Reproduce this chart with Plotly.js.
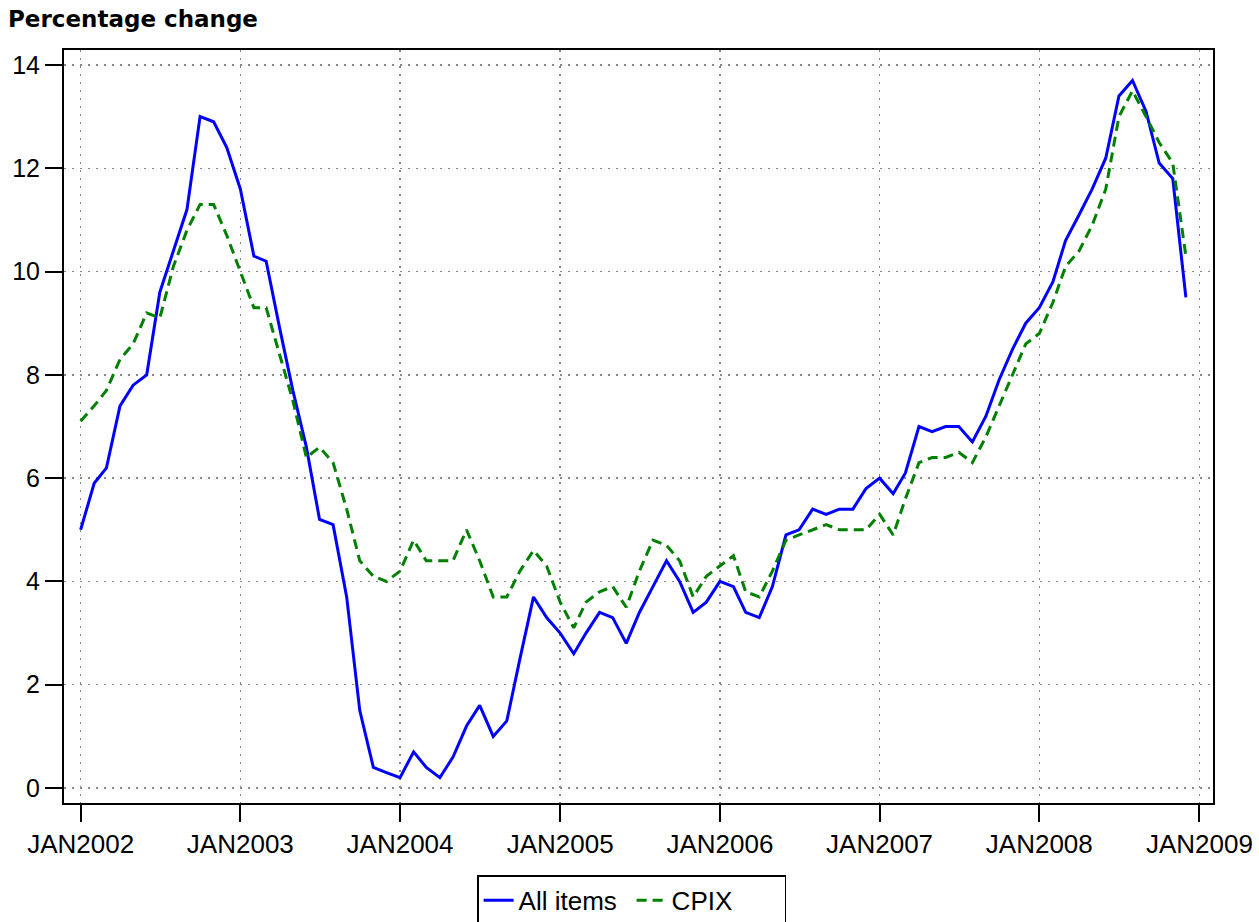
<!DOCTYPE html>
<html>
<head>
<meta charset="utf-8">
<script src="https://cdn.plot.ly/plotly-3.0.1.min.js"></script>
<style>
html,body{margin:0;padding:0;background:#fff;}
#chart{width:1259px;height:922px;}
</style>
</head>
<body>
<div id="chart"></div>
<script>
// Monthly observations, JAN2002 .. DEC2008
const months = [];
for (let y = 2002; y <= 2008; y++) {
  for (let m = 1; m <= 12; m++) {
    months.push(y + '-' + String(m).padStart(2, '0') + '-01');
  }
}

const allItems = [
  5.0, 5.9, 6.2, 7.4, 7.8, 8.0, 9.6, 10.4, 11.2, 13.0, 12.9, 12.4,
  11.6, 10.3, 10.2, 8.9, 7.7, 6.6, 5.2, 5.1, 3.7, 1.5, 0.4, 0.3,
  0.2, 0.7, 0.4, 0.2, 0.6, 1.2, 1.6, 1.0, 1.3, 2.5, 3.7, 3.3,
  3.0, 2.6, 3.0, 3.4, 3.3, 2.8, 3.4, 3.9, 4.4, 4.0, 3.4, 3.6,
  4.0, 3.9, 3.4, 3.3, 3.9, 4.9, 5.0, 5.4, 5.3, 5.4, 5.4, 5.8,
  6.0, 5.7, 6.1, 7.0, 6.9, 7.0, 7.0, 6.7, 7.2, 7.9, 8.5, 9.0,
  9.3, 9.8, 10.6, 11.1, 11.6, 12.2, 13.4, 13.7, 13.1, 12.1, 11.8, 9.5
];

const cpix = [
  7.1, 7.4, 7.7, 8.3, 8.6, 9.2, 9.1, 10.1, 10.8, 11.3, 11.3, 10.7,
  10.0, 9.3, 9.3, 8.4, 7.5, 6.4, 6.6, 6.3, 5.4, 4.4, 4.1, 4.0,
  4.2, 4.8, 4.4, 4.4, 4.4, 5.0, 4.4, 3.7, 3.7, 4.2, 4.6, 4.3,
  3.6, 3.1, 3.6, 3.8, 3.9, 3.5, 4.2, 4.8, 4.7, 4.4, 3.7, 4.1,
  4.3, 4.5, 3.8, 3.7, 4.2, 4.8, 4.9, 5.0, 5.1, 5.0, 5.0, 5.0,
  5.3, 4.9, 5.6, 6.3, 6.4, 6.4, 6.5, 6.3, 6.8, 7.4, 8.0, 8.6,
  8.8, 9.4, 10.1, 10.4, 10.9, 11.6, 13.0, 13.5, 13.0, 12.5, 12.1, 10.3
];

const xTickVals = ['2002-01-01','2003-01-01','2004-01-01','2005-01-01','2006-01-01','2007-01-01','2008-01-01','2009-01-01'];
const xTickText = ['JAN2002','JAN2003','JAN2004','JAN2005','JAN2006','JAN2007','JAN2008','JAN2009'];
const yTickVals = [0, 2, 4, 6, 8, 10, 12, 14];
const seriesNames = ['All items', 'CPIX'];

const font = 'Arial, "Liberation Sans", sans-serif';

const traces = [
  {
    x: months, y: allItems, name: seriesNames[0], type: 'scatter', mode: 'lines',
    line: {color: '#0000ff', width: 3}
  },
  {
    x: months, y: cpix, name: seriesNames[1], type: 'scatter', mode: 'lines',
    line: {color: '#008000', width: 3, dash: '10px,6px'}
  }
];

const layout = {
  width: 1259, height: 922,
  paper_bgcolor: '#ffffff', plot_bgcolor: '#ffffff',
  margin: {l: 64, r: 46, t: 50, b: 119, autoexpand: false},
  font: {family: font, size: 25, color: '#000'},
  title: {
    text: 'Percentage change',
    font: {family: '"DejaVu Sans", sans-serif', size: 23, color: '#000', weight: 'bold'},
    xref: 'container', yref: 'container',
    x: 8/1259, xanchor: 'left', y: 1 - 19/922, yanchor: 'middle'
  },
  xaxis: {
    type: 'date',
    range: ['2001-11-24', '2009-02-01'],
    tickmode: 'array', tickvals: xTickVals, ticktext: xTickText,
    ticks: 'outside', ticklen: 17, tickwidth: 2, tickcolor: '#000',
    showline: true, linecolor: '#000', linewidth: 2, mirror: true,
    showgrid: true, gridcolor: '#888', gridwidth: 1.5, griddash: '1.5px,6.5px',
    zeroline: false, automargin: false,
    tickfont: {family: font, size: 26, color: '#000'}
  },
  yaxis: {
    range: [-0.29, 14.29],
    tickmode: 'array', tickvals: yTickVals,
    ticks: 'outside', ticklen: 17, tickwidth: 2, tickcolor: '#000',
    showline: true, linecolor: '#000', linewidth: 2, mirror: true,
    showgrid: true, gridcolor: '#888', gridwidth: 1.5, griddash: '1.5px,6.5px',
    zeroline: false, automargin: false,
    tickfont: {family: font, size: 25, color: '#000'}
  },
  showlegend: true,
  legend: {
    orientation: 'h',
    x: 0.494, xanchor: 'center',
    y: -0.096, yanchor: 'top',
    bordercolor: '#000', borderwidth: 1.5,
    bgcolor: '#fff',
    font: {family: font, size: 26, color: '#000'},
    entrywidth: 108, entrywidthmode: 'pixels',
    itemwidth: 30,
    tracegroupgap: 0
  }
};

Plotly.newPlot('chart', traces, layout, {displayModeBar: false, staticPlot: true});
</script>
</body>
</html>
